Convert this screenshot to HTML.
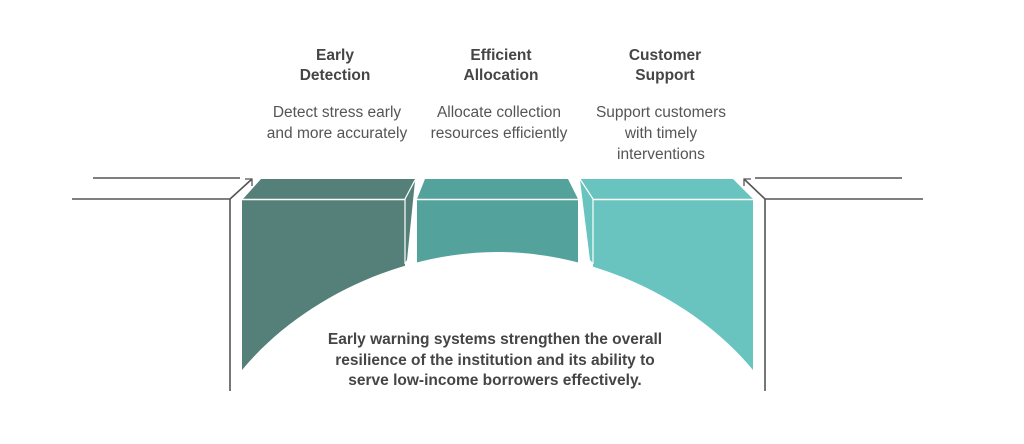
<!DOCTYPE html>
<html>
<head>
<meta charset="utf-8">
<style>
  html,body{margin:0;padding:0;background:#fff;}
  svg{display:block;}
  text{font-family:"Liberation Sans", Arial, sans-serif;font-size:15.5px;}
  .t{font-weight:bold;fill:#454545;}
  .d{fill:#555;}
</style>
</head>
<body>
<svg width="1024" height="444" viewBox="0 0 1024 444" xmlns="http://www.w3.org/2000/svg">
  <rect width="1024" height="444" fill="#fff"/>

  <!-- Block 1 (dark) -->
  <polygon points="261,179 415,179 405,199 243,199" fill="#558079"/>
  <rect x="242" y="199" width="163" height="175" fill="#558079"/>
  <polygon points="405,199 415,181 407,260 405,263" fill="#558079"/>

  <!-- Block 2 (medium) -->
  <polygon points="425,179 568,179 578,199 417,199" fill="#53a39c"/>
  <rect x="417" y="199" width="161" height="70" fill="#53a39c"/>

  <!-- Block 3 (light) -->
  <polygon points="580,179 733,179 753,199 593,199" fill="#69c4bf"/>
  <rect x="593" y="199" width="160" height="175" fill="#69c4bf"/>
  <polygon points="580,180 593,199 593,263 590,260" fill="#69c4bf"/>

  <!-- white separators between top faces and front faces -->
  <line x1="242" y1="199.5" x2="405" y2="199.5" stroke="#fff" stroke-width="1.5"/>
  <line x1="405" y1="199" x2="415" y2="180" stroke="#fff" stroke-width="1.2"/>
  <line x1="405" y1="199" x2="405" y2="264" stroke="#fff" stroke-width="1.2"/>
  <line x1="417" y1="199.5" x2="578" y2="199.5" stroke="#fff" stroke-width="1.5"/>
  <line x1="593" y1="199.5" x2="753" y2="199.5" stroke="#fff" stroke-width="1.5"/>
  <line x1="593" y1="199" x2="580" y2="179" stroke="#fff" stroke-width="1.2"/>
  <line x1="593" y1="199" x2="593" y2="264" stroke="#fff" stroke-width="1.2"/>

  <!-- arch cut-out -->
  <path d="M242,370 C300,300 400,252 497.5,252 C595,252 695,300 753,370 L753,400 L242,400 Z" fill="#fff"/>

  <!-- Left lines -->
  <g stroke="#555" stroke-width="1.6" fill="none">
    <line x1="93" y1="178" x2="240" y2="178"/>
    <line x1="72" y1="199" x2="230" y2="199"/>
    <line x1="230" y1="199" x2="230" y2="391"/>
    <line x1="230" y1="199" x2="252" y2="179"/>
    <polyline points="245,179 252,179 252,186" stroke-width="1.3"/>
  </g>

  <!-- Right lines -->
  <g stroke="#555" stroke-width="1.6" fill="none">
    <line x1="755" y1="178" x2="902" y2="178"/>
    <line x1="765" y1="199" x2="923" y2="199"/>
    <line x1="765" y1="199" x2="765" y2="391"/>
    <line x1="765" y1="199" x2="744" y2="179"/>
    <polyline points="751,179 744,179 744,186" stroke-width="1.3"/>
  </g>

  <!-- Titles -->
  <text class="t" x="335" y="60" text-anchor="middle">Early</text>
  <text class="t" x="335" y="80" text-anchor="middle">Detection</text>
  <text class="t" x="501" y="60" text-anchor="middle">Efficient</text>
  <text class="t" x="501" y="80" text-anchor="middle">Allocation</text>
  <text class="t" x="665" y="60" text-anchor="middle">Customer</text>
  <text class="t" x="665" y="80" text-anchor="middle">Support</text>

  <!-- Descriptions -->
  <text class="d" x="337" y="117" text-anchor="middle">Detect stress early</text>
  <text class="d" x="337" y="138" text-anchor="middle">and more accurately</text>
  <text class="d" x="499" y="117" text-anchor="middle">Allocate collection</text>
  <text class="d" x="499" y="138" text-anchor="middle">resources efficiently</text>
  <text class="d" x="661" y="117" text-anchor="middle">Support customers</text>
  <text class="d" x="661" y="138" text-anchor="middle">with timely</text>
  <text class="d" x="661" y="159" text-anchor="middle">interventions</text>

  <!-- Bottom statement -->
  <text class="t" x="495" y="344" text-anchor="middle">Early warning systems strengthen the overall</text>
  <text class="t" x="495" y="365" text-anchor="middle">resilience of the institution and its ability to</text>
  <text class="t" x="495" y="385" text-anchor="middle">serve low-income borrowers effectively.</text>
</svg>
</body>
</html>
